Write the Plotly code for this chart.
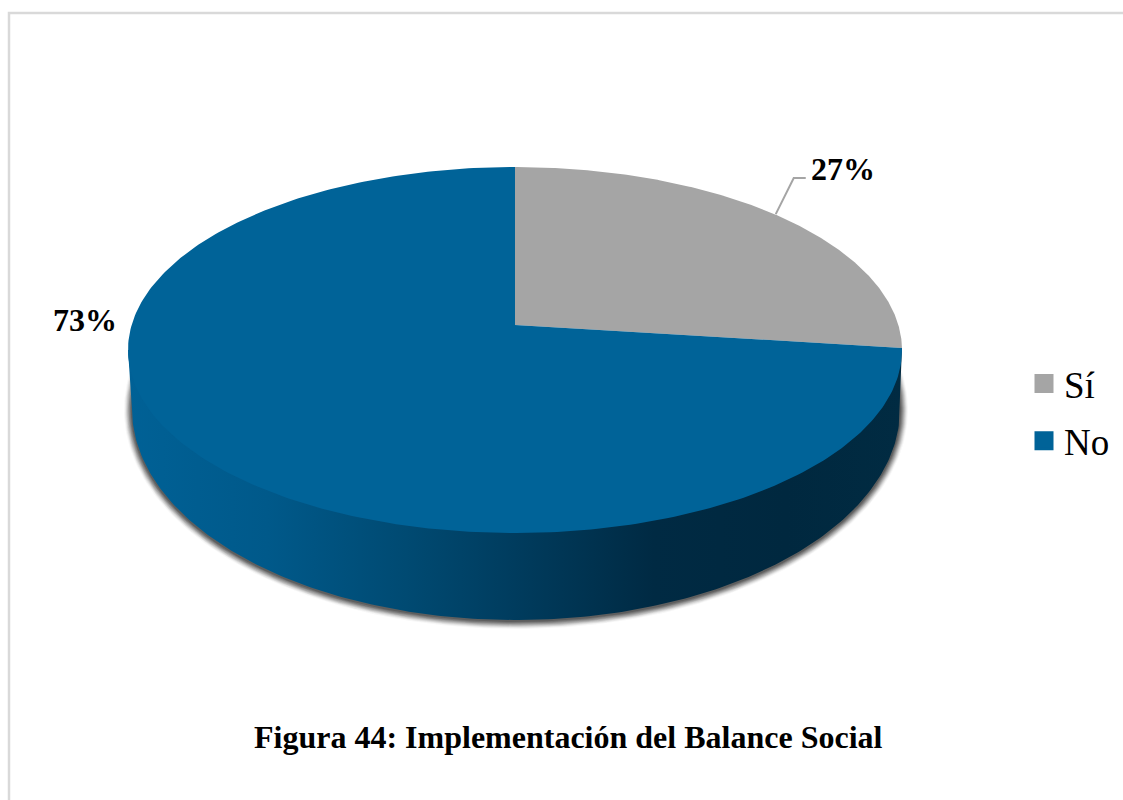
import numpy as np
import plotly.graph_objects as go

# Data
categories = ["Sí", "No"]
values = [27, 73]
labels = ["27%", "73%"]
colors = ["#A5A5A5", "#006398"]
title_text = "Figura 44: Implementación del Balance Social"

W, H = 1123, 800
SERIF = "Liberation Serif, Times New Roman, serif"

# Perspective disc: apex, top/bottom of the rim, half width (axis units = pixels)
APEX_X, APEX_Y = 515.0, 325.0
TOP_UP, BOTTOM_DOWN, HALF_W = 158.0, 208.0, 387.0
c = (BOTTOM_DOWN - TOP_UP) / (BOTTOM_DOWN + TOP_UP)
a = TOP_UP * (1 + c)
k = HALF_W * np.sqrt(1 - c * c)


def rim(theta):
    """theta: clockwise from 12 o'clock, radians."""
    u, v = np.sin(theta), np.cos(theta)
    d = 1 + c * v
    return APEX_X + k * u / d, APEX_Y - a * v / d


def ellipse(cx, cy, rx, ry, t0, t1, n=240):
    t = np.linspace(t0, t1, n)
    return cx + rx * np.cos(t), cy + ry * np.sin(t)


fig = go.Figure()

# Drop shadow under the lower body
BX, BY, BRX, BRY = 516.0, 409.0, 384.0, 211.0
for d, alpha in zip(range(8, 0, -1), [0.04, 0.07, 0.10, 0.14, 0.17, 0.2, 0.24, 0.28]):
    sx, sy = ellipse(BX, BY + 1, BRX + d, BRY + d, -0.22, np.pi + 0.22)
    fig.add_trace(go.Scatter(x=sx, y=sy, mode="lines", fill="toself", line=dict(width=0),
                             fillcolor=f"rgba(40,40,40,{alpha})", hoverinfo="skip", showlegend=False))

# Side wall
wx, wy = ellipse(BX, BY, BRX, BRY, 0, np.pi)
rx1, ry1 = rim(np.radians(360 * values[0] / sum(values)))
side_x = np.concatenate([[rx1], wx, [APEX_X - HALF_W]])
side_y = np.concatenate([[ry1], wy, [APEX_Y + 25]])
fig.add_trace(go.Scatter(
    x=side_x, y=side_y, mode="lines", fill="toself", line=dict(width=0),
    fillgradient=dict(type="horizontal", colorscale=[
        [0.0, "#006196"], [0.18, "#00598A"], [0.36, "#004A72"], [0.5, "#003C5E"],
        [0.68, "#002A43"], [0.85, "#00283F"], [1.0, "#012B42"]]),
    hoverinfo="skip", showlegend=False))

# Top slices
cum = np.cumsum([0] + values) / sum(values) * 2 * np.pi
for i, name in enumerate(categories):
    t = np.linspace(cum[i], cum[i + 1], 300)
    x, y = rim(t)
    fig.add_trace(go.Scatter(
        x=np.concatenate([[APEX_X], x, [APEX_X]]), y=np.concatenate([[APEX_Y], y, [APEX_Y]]),
        mode="lines", fill="toself", line=dict(width=0), fillcolor=colors[i],
        name=name, hoverinfo="name", showlegend=False))

# Legend entries
for i, name in enumerate(categories):
    fig.add_trace(go.Scatter(x=[None], y=[None], mode="markers", name=name, legendgroup=name,
                             marker=dict(symbol="square", size=16, color=colors[i],
                                         line=dict(color=colors[i], width=3))))

# Leader line of the first label, starting at the slice's mid angle on the rim
mx, my = rim((cum[0] + cum[1]) / 2)
fig.add_trace(go.Scatter(x=[mx - 3, mx + 15, mx + 27], y=[my - 2, my - 38, my - 38], mode="lines",
                         line=dict(color="#A5A5A5", width=2), hoverinfo="skip", showlegend=False))

ann = [
    dict(x=842.5, y=169, text=f"<b>{labels[0]}</b>"),
    dict(x=84.5, y=320, text=f"<b>{labels[1]}</b>"),
]
annotations = [dict(a, xref="x", yref="y", showarrow=False, font=dict(family=SERIF, size=32, color="#000000"))
               for a in ann]
annotations.append(dict(x=568, y=737, xref="x", yref="y", showarrow=False, text=f"<b>{title_text}</b>",
                        font=dict(family=SERIF, size=32, color="#000000")))

fig.update_layout(
    width=W, height=H, margin=dict(l=0, r=0, t=0, b=0), autosize=False,
    paper_bgcolor="#FFFFFF", plot_bgcolor="#FFFFFF",
    xaxis=dict(range=[0, W], visible=False, fixedrange=True),
    yaxis=dict(range=[H, 0], visible=False, fixedrange=True),
    legend=dict(x=1024 / W, y=1 - 353 / H, xanchor="left", yanchor="top",
                font=dict(family=SERIF, size=37, color="#000000"),
                tracegroupgap=6, bgcolor="rgba(0,0,0,0)"),
    annotations=annotations,
    shapes=[dict(type="path", xref="x", yref="y", path=f"M 9 {H} L 9 13 L {W} 13",
                 line=dict(color="#D9D9D9", width=2.5), layer="below")],
)
fig.write_html("out.html", config=dict(displayModeBar=False),
               post_script="document.body.style.margin='0';document.documentElement.style.overflow='hidden';")
